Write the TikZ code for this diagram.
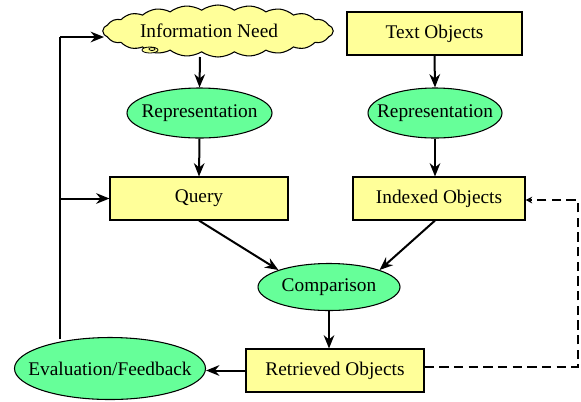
\documentclass[tikz,border=0pt]{standalone}
\usepackage{fontspec}
\setmainfont{Liberation Serif}
\usetikzlibrary{shapes.geometric,shapes.symbols,arrows.meta}
\definecolor{boxyellow}{HTML}{FFFF99}
\definecolor{ovalgreen}{HTML}{66FF99}
\tikzset{
  lbl/.style={font=\fontsize{14.5}{16}\selectfont},
  box/.style={draw=black, fill=boxyellow, line width=0.8pt, rectangle, inner sep=0pt, lbl},
  oval/.style={draw=black, fill=ovalgreen, line width=0.8pt, ellipse, inner sep=0pt,
               label={[lbl]center:#1}},
  flow/.style={line width=1.5pt, -{Stealth[length=10pt,width=8pt]}},
  back/.style={line width=1.3pt, dashed, dash pattern=on 7pt off 4pt, -{Stealth[length=5pt,width=5pt,open]}}
}
\begin{document}
\begin{tikzpicture}[x=0.75pt,y=-0.75pt]
\useasboundingbox (0,0) rectangle (581,401);
% cloud holding the information need
\node[cloud, cloud puffs=22, cloud puff arc=70, aspect=4.4, draw=black, fill=boxyellow, line width=0.8pt,
      minimum width=230*0.75pt, minimum height=52*0.75pt, inner sep=0pt] (need) at (218,31) {};
\node[lbl] (needtext) at (209,31) {Information Need};
\draw[line width=0.6pt, fill=boxyellow] (150,50) ellipse (8 and 3);
\draw[line width=0.6pt] (152,49) ellipse (3 and 1.5);
% boxes
\node[box, minimum width=175*0.75pt, minimum height=43*0.75pt] (text) at (434.5,33.5) {Text Objects};
\node[box, minimum width=178*0.75pt, minimum height=43*0.75pt] (query) at (199,198.5) {Query};
\node[box, minimum width=172*0.75pt, minimum height=43*0.75pt] (indexed) at (439,198.5) {Indexed Objects};
\node[box, minimum width=178*0.75pt, minimum height=43*0.75pt] (retrieved) at (335,370.5) {Retrieved Objects};
% ovals
\node[oval=Representation, minimum width=145*0.75pt, minimum height=50*0.75pt] (repl) at (199.5,113) {};
\node[oval=Representation, minimum width=134*0.75pt, minimum height=50*0.75pt] (repr) at (435,113) {};
\node[oval=Comparison, minimum width=142*0.75pt, minimum height=47*0.75pt] (comp) at (329,287) {};
\node[oval=Evaluation/Feedback, minimum width=191*0.75pt, minimum height=62*0.75pt] (eval) at (110,368.5) {};
% junctions of the feedback loop
\coordinate (fbtop) at (60,37);
\coordinate (fbmid) at (60,198.5);
\coordinate (fbbot) at (60,339);
\coordinate (dashr) at (578,367);
\coordinate (dashu) at (578,200);
% connectors
\draw[flow] (200,57) -- (repl.north);
\draw[flow] (repl.south) -- (query.north);
\draw[flow] (text.south) -- (repr.north);
\draw[flow] (repr.south) -- (indexed.north -| repr.south);
\draw[flow] (query.south) -- (comp.north west);
\draw[flow] (indexed.south) ++(-4,0) -- (comp.north east);
\draw[flow] (comp.south) -- (retrieved.north -| comp.south);
\draw[flow] (retrieved.west) -- (eval.east |- retrieved.west);
\draw[line width=1.5pt] (fbbot) -- (fbtop);
\draw[flow] (fbtop) -- (104,37);
\draw[flow] (fbmid) -- (query.west);
\draw[back] (retrieved.east |- dashr) -- (dashr) -- (dashu) -- (indexed.east |- dashu);
\end{tikzpicture}
\end{document}
